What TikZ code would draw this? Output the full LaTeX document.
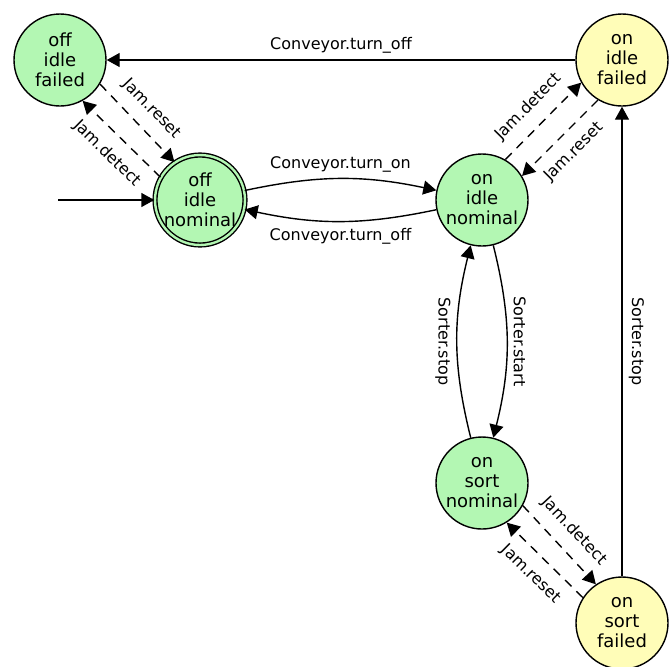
\documentclass[tikz,border=0pt]{standalone}
\usepackage{fontspec}
\setmainfont{DejaVu Sans}
\usetikzlibrary{arrows.meta}
\definecolor{sgreen}{HTML}{B3F7B3}
\definecolor{syellow}{HTML}{FFFDB8}

\begin{document}
\begin{tikzpicture}[x=0.5pt, y=-0.5pt, line width=0.7pt,
  >={Triangle[length=6.5pt,width=7pt]},
  state/.style={circle, draw, minimum size=46pt, inner sep=0pt, align=center,
    font=\fontsize{9}{10}\selectfont},
  ok/.style={state, fill=sgreen},
  bad/.style={state, fill=syellow},
  initstate/.style={ok, double=sgreen, double distance=1.2pt, minimum size=44.5pt},
  jam/.style={->, dash pattern=on 4.5pt off 3.5pt},
  lbl/.style={font=\fontsize{8}{9.6}\selectfont, inner sep=3pt},
  jlbl/.style={lbl, sloped, inner sep=6pt}]
\useasboundingbox (0,0) rectangle (669,666);
\node[ok] (offf) at (60,60) {off\\idle\\failed};
\node[initstate] (offn) at (200,200) {off\\idle\\nominal};
\node[ok] (onn) at (482,200) {on\\idle\\nominal};
\node[bad] (onf) at (622,60) {on\\idle\\failed};
\node[ok] (sortn) at (482,483) {on\\sort\\nominal};
\node[bad] (sortf) at (622,623) {on\\sort\\failed};
\coordinate (entry) at (58,200);
\draw[->] (entry) -- (offn);
\draw[->] (onf) -- node[lbl, above] {Conveyor.turn\_off} (offf);
\draw[->] (offn) to[bend left=12] node[lbl, above] {Conveyor.turn\_on} (onn);
\draw[->] (onn) to[bend left=12] node[lbl, below] {Conveyor.turn\_off} (offn);
\draw[->] (onn) to[bend left=14] node[lbl, anchor=south, rotate=-90] {Sorter.start} (sortn);
\draw[->] (sortn) to[bend left=14] node[lbl, anchor=north, rotate=-90] {Sorter.stop} (onn);
\draw[->] (sortf) -- node[lbl, anchor=south, rotate=-90] {Sorter.stop} (onf);
\draw[jam] (offf.-31) -- node[jlbl, above] {Jam.reset} (offn.124);
\draw[jam] (offn.150) -- node[jlbl, below] {Jam.detect} (offf.-61);
\draw[jam] (onn.60) -- node[jlbl, above] {Jam.detect} (onf.-151);
\draw[jam] (onf.-121) -- node[jlbl, below] {Jam.reset} (onn.31);
\draw[jam] (sortn.-29) -- node[jlbl, above] {Jam.detect} (sortf.124);
\draw[jam] (sortf.147) -- node[jlbl, below] {Jam.reset} (sortn.-58);
\end{tikzpicture}
\end{document}
